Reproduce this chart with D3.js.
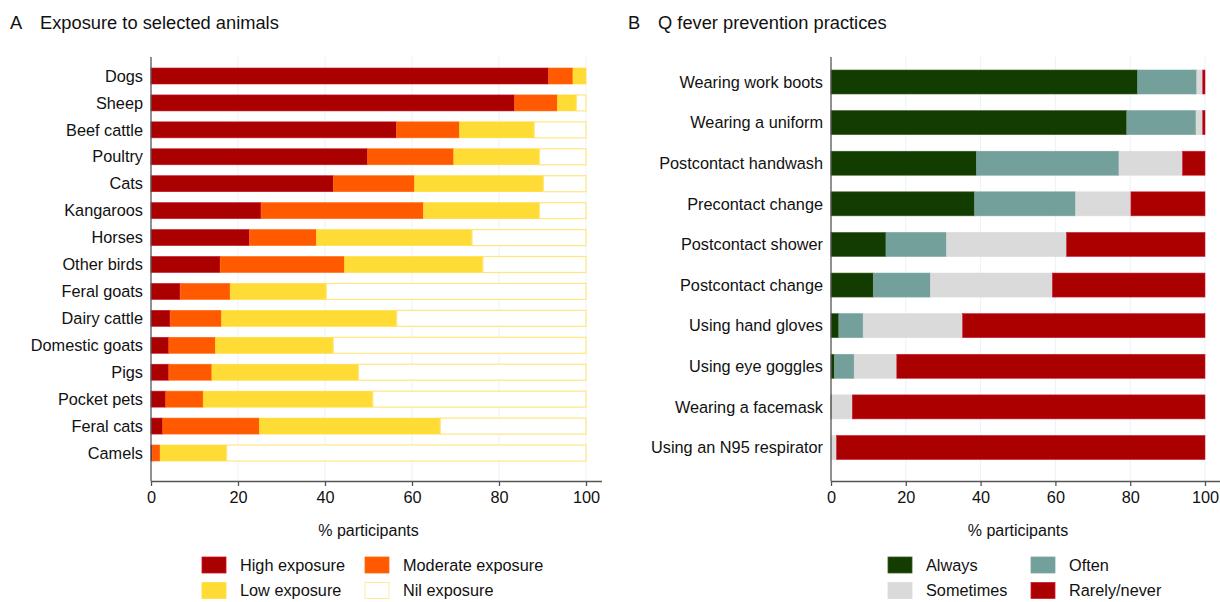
<!DOCTYPE html>
<html>
<head>
<meta charset="utf-8">
<script src="https://cdn.jsdelivr.net/npm/d3@7"></script>
<style>
  body { margin: 0; background: #fff; }
  svg { font-family: "Liberation Sans", Arial, sans-serif; }
</style>
</head>
<body>
<svg id="chart" width="1220" height="602"></svg>
<script>
// Panel A: exposure to selected animals (% participants)
const animals = ["Dogs", "Sheep", "Beef cattle", "Poultry", "Cats", "Kangaroos", "Horses",
  "Other birds", "Feral goats", "Dairy cattle", "Domestic goats", "Pigs", "Pocket pets",
  "Feral cats", "Camels"];
const highExposure     = [91.4, 83.6, 56.4, 49.8, 41.9, 25.3, 22.6, 15.9, 6.7, 4.4, 4.1, 4.1, 3.4, 2.7, 0.3];
const moderateExposure = [5.6, 9.8, 14.5, 19.8, 18.7, 37.3, 15.4, 28.6, 11.5, 11.8, 10.7, 9.9, 8.6, 22.2, 1.8];
const lowExposure      = [3.0, 4.4, 17.2, 19.7, 29.6, 26.7, 35.8, 31.8, 22.1, 40.3, 27.1, 33.7, 39.0, 41.6, 15.3];
const nilExposure      = [0.0, 2.2, 11.9, 10.7, 9.8, 10.7, 26.2, 23.7, 59.7, 43.5, 58.1, 52.3, 49.0, 33.5, 82.6];

// Panel B: Q fever prevention practices (% participants)
const practices = ["Wearing work boots", "Wearing a uniform", "Postcontact handwash",
  "Precontact change", "Postcontact shower", "Postcontact change", "Using hand gloves",
  "Using eye goggles", "Wearing a facemask", "Using an N95 respirator"];
const always    = [82.0, 79.1, 38.9, 38.4, 14.7, 11.3, 2.1, 0.9, 0.2, 0.0];
const often     = [15.8, 18.5, 38.1, 27.0, 16.2, 15.3, 6.5, 5.3, 0.0, 0.0];
const sometimes = [1.6, 1.8, 17.0, 14.8, 32.1, 32.6, 26.6, 11.4, 5.5, 1.5];
const rarely    = [0.6, 0.6, 6.0, 19.8, 37.0, 40.8, 64.8, 82.4, 94.3, 98.5];

const xTicks = [0, 20, 40, 60, 80, 100];

const svg = d3.select("#chart");
const ink = "#111";
const fs = 16.3;

function panel(opts) {
  const { letter, title, titleX, cats, series, left, right, axisEnd, top, bottom, barH, legendX } = opts;
  const g = svg.append("g");

  g.append("text").attr("x", titleX).attr("y", 29)
    .attr("font-size", 18.3).attr("fill", ink).text(letter);
  g.append("text").attr("x", titleX + 30).attr("y", 29)
    .attr("font-size", 18.3).attr("fill", ink).text(title);

  const x = d3.scaleLinear().domain([0, 100]).range([left, right]);
  const y = d3.scalePoint().domain(cats).range(opts.yRange);

  // faint gridlines
  g.append("g").selectAll("line").data(xTicks.slice(1)).join("line")
    .attr("x1", d => x(d)).attr("x2", d => x(d))
    .attr("y1", top).attr("y2", bottom)
    .attr("stroke", "#eaf3f8").attr("stroke-width", 1);

  // stacked bars
  const rows = cats.map((c, i) => {
    const r = { cat: c };
    series.forEach(s => r[s.key] = s.values[i]);
    return r;
  });
  const stack = d3.stack().keys(series.map(s => s.key))(rows);
  stack.forEach((layer, li) => {
    const s = series[li];
    g.append("g").selectAll("rect").data(layer).join("rect")
      .attr("x", d => x(d[0]))
      .attr("width", d => Math.max(0, x(d[1]) - x(d[0])))
      .attr("y", d => y(d.data.cat) - barH / 2)
      .attr("height", barH)
      .attr("fill", s.color)
      .attr("stroke", s.stroke)
      .attr("stroke-width", s.strokeWidth || 0.6);
  });

  // y axis
  g.append("line").attr("x1", left).attr("x2", left).attr("y1", top).attr("y2", bottom)
    .attr("stroke", "#555").attr("stroke-width", 1.3);
  g.append("g").selectAll("text").data(cats).join("text")
    .attr("x", left - 8).attr("y", d => y(d)).attr("dy", "0.35em")
    .attr("text-anchor", "end").attr("font-size", fs).attr("fill", ink)
    .text(d => d);

  // x axis
  const xAxis = d3.axisBottom(x).tickValues(xTicks).tickSize(5).tickPadding(5);
  const ax = g.append("g").attr("transform", `translate(0,${bottom})`).call(xAxis);
  ax.select(".domain").attr("d", `M${left},0.5H${axisEnd}`).attr("stroke", "#555").attr("stroke-width", 1.3);
  ax.selectAll(".tick line").attr("stroke", "#555").attr("stroke-width", 1.3);
  ax.selectAll(".tick text").attr("font-size", fs).attr("fill", ink)
    .attr("font-family", "Liberation Sans, Arial, sans-serif");

  g.append("text").attr("x", (left + right) / 2).attr("y", 536)
    .attr("text-anchor", "middle").attr("font-size", 16).attr("fill", ink)
    .text("% participants");

  // legend, 2 x 2
  const lg = g.append("g");
  series.forEach((s, i) => {
    const col = i % 2, row = Math.floor(i / 2);
    const lx = legendX[col], ly = 557 + row * 25.5;
    lg.append("rect").attr("x", lx).attr("y", ly).attr("width", 24).attr("height", 16)
      .attr("fill", s.color).attr("stroke", s.stroke).attr("stroke-width", 0.8);
    lg.append("text").attr("x", lx + 38).attr("y", ly + 8).attr("dy", "0.35em")
      .attr("font-size", fs).attr("fill", ink).text(s.key);
  });
}

panel({
  letter: "A", title: "Exposure to selected animals", titleX: 10,
  cats: animals,
  series: [
    { key: "High exposure", values: highExposure, color: "#aa0000", stroke: "#c8102e" },
    { key: "Moderate exposure", values: moderateExposure, color: "#ff5a00", stroke: "#ff6a10" },
    { key: "Low exposure", values: lowExposure, color: "#ffdc35", stroke: "#ffdc35" },
    { key: "Nil exposure", values: nilExposure, color: "#ffffff", stroke: "#ffe680", strokeWidth: 1.2 }
  ],
  left: 151, right: 586, axisEnd: 602, top: 57, bottom: 481,
  yRange: [76, 453], barH: 16, legendX: [202, 365]
});

panel({
  letter: "B", title: "Q fever prevention practices", titleX: 628,
  cats: practices,
  series: [
    { key: "Always", values: always, color: "#133c00", stroke: "#3f5a1e" },
    { key: "Often", values: often, color: "#74a09b", stroke: "#7aa5a0" },
    { key: "Sometimes", values: sometimes, color: "#dadada", stroke: "#dadada" },
    { key: "Rarely/never", values: rarely, color: "#aa0000", stroke: "#d01a3a" }
  ],
  left: 831, right: 1205, axisEnd: 1220, top: 57, bottom: 481,
  yRange: [82, 447.5], barH: 24, legendX: [888, 1031]
});
</script>
</body>
</html>
